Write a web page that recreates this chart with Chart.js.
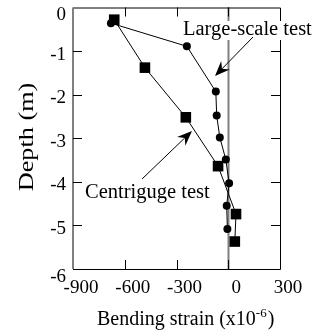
<!DOCTYPE html>
<html>
<head>
<meta charset="utf-8">
<script src="https://cdn.jsdelivr.net/npm/chart.js@4/dist/chart.umd.min.js"></script>
<style>
  html, body { margin: 0; padding: 0; background: #fff; }
  #wrap { width: 325px; height: 333px; position: relative; }
</style>
</head>
<body>
<div id="wrap"><canvas id="c" width="325" height="333"></canvas></div>
<script>
// ---- data ----
const largeStrain = [-680, -240, -72, -67, -49, -14, 5, -9, -5];
const largeDepth  = [-0.36, -0.89, -1.93, -2.48, -2.98, -3.49, -4.03, -4.55, -5.08];
const centStrain  = [-661, -483, -246, -59, 45, 38];
const centDepth   = [-0.28, -1.38, -2.52, -3.64, -4.74, -5.37];
const xTicks = [-900, -600, -300, 0, 300];
const yTicks = [0, -1, -2, -3, -4, -5, -6];
const xTitle = "Bending strain (x10";
const xTitleSup = "-6";
const yTitle = "Depth (m)";
const labelLarge = "Large-scale test";
const labelCent = "Centriguge test";

const SERIF = '"Liberation Serif", "Times New Roman", serif';

function pts(xs, ys) { return xs.map((x, i) => ({ x: x, y: ys[i] })); }

function arrow(ctx, x0, y0, x1, y1) {
  ctx.save();
  ctx.strokeStyle = '#000'; ctx.fillStyle = '#000'; ctx.lineWidth = 1;
  const a = Math.atan2(y1 - y0, x1 - x0);
  const L = 15, W = 6, N = 10;
  ctx.beginPath();
  ctx.moveTo(x0, y0);
  ctx.lineTo(x1 - Math.cos(a) * N, y1 - Math.sin(a) * N);
  ctx.stroke();
  ctx.translate(x1, y1); ctx.rotate(a);
  ctx.beginPath();
  ctx.moveTo(0, 0);
  ctx.lineTo(-L, -W);
  ctx.lineTo(-N, 0);
  ctx.lineTo(-L, W);
  ctx.closePath();
  ctx.fill();
  ctx.restore();
}

const framePlugin = {
  id: 'frame',
  beforeDatasetsDraw(chart) {
    const ctx = chart.ctx, a = chart.chartArea;
    const xs = chart.scales.x, ys = chart.scales.y;
    ctx.save();
    // zero line
    const x0 = Math.round(xs.getPixelForValue(0)) + 0.5;
    ctx.strokeStyle = '#808080'; ctx.lineWidth = 2;
    ctx.beginPath(); ctx.moveTo(x0, a.top); ctx.lineTo(x0, a.bottom); ctx.stroke();
    // frame
    ctx.strokeStyle = '#000'; ctx.lineWidth = 1;
    ctx.beginPath();
    ctx.moveTo(a.left, a.top + 0.5); ctx.lineTo(a.right + 0.5, a.top + 0.5);
    ctx.lineTo(a.right + 0.5, a.bottom + 0.5); ctx.lineTo(a.left, a.bottom + 0.5);
    ctx.stroke();
    ctx.strokeStyle = '#808080'; ctx.lineWidth = 2;
    ctx.beginPath(); ctx.moveTo(a.left, a.top); ctx.lineTo(a.left, a.bottom); ctx.stroke();
    // inward ticks
    ctx.strokeStyle = '#000'; ctx.lineWidth = 1;
    const T = 9;
    xTicks.forEach(v => {
      const p = Math.round(xs.getPixelForValue(v)) + 0.5;
      if (p <= a.left + 1 || p >= a.right - 1) return;
      ctx.beginPath();
      ctx.moveTo(p, a.top); ctx.lineTo(p, a.top + T);
      ctx.moveTo(p, a.bottom); ctx.lineTo(p, a.bottom - T);
      ctx.stroke();
    });
    yTicks.forEach(v => {
      const p = Math.round(ys.getPixelForValue(v)) + 0.5;
      if (p <= a.top + 1 || p >= a.bottom - 1) return;
      ctx.beginPath();
      ctx.moveTo(a.left, p); ctx.lineTo(a.left + T, p);
      ctx.moveTo(a.right, p); ctx.lineTo(a.right - T, p);
      ctx.stroke();
    });
    ctx.restore();
  },
  afterDraw(chart) {
    const ctx = chart.ctx, a = chart.chartArea;
    const xs = chart.scales.x, ys = chart.scales.y;
    ctx.save();
    ctx.fillStyle = '#000';
    // x tick labels
    ctx.font = '19px ' + SERIF;
    ctx.textAlign = 'center'; ctx.textBaseline = 'alphabetic';
    xTicks.forEach(v => {
      ctx.fillText(String(v), xs.getPixelForValue(v) + 8, a.bottom + 24);
    });
    // y tick labels
    ctx.textAlign = 'right';
    yTicks.forEach((v, i) => {
      let dy = 8.5;
      if (i === 0) dy = 12;
      if (i === yTicks.length - 1) dy = 13;
      ctx.fillText(String(v), a.left - 7, ys.getPixelForValue(v) + dy);
    });
    // x title with superscript
    ctx.textAlign = 'left';
    ctx.font = '20px ' + SERIF;
    let tx = 97, ty = 325;
    ctx.fillText(xTitle, tx, ty);
    tx += ctx.measureText(xTitle).width;
    ctx.font = '13px ' + SERIF;
    ctx.fillText(xTitleSup, tx, ty - 8);
    tx += ctx.measureText(xTitleSup).width;
    ctx.font = '20px ' + SERIF;
    ctx.fillText(')', tx + 1, ty);
    // y title rotated
    ctx.save();
    ctx.translate(27, 137);
    ctx.rotate(-Math.PI / 2);
    ctx.scale(1.25, 1);
    ctx.font = '21px ' + SERIF;
    ctx.textAlign = 'center'; ctx.textBaseline = 'middle';
    ctx.fillText(yTitle, 0, 0);
    ctx.restore();
    // annotations
    ctx.font = '20.5px ' + SERIF;
    ctx.textAlign = 'left'; ctx.textBaseline = 'alphabetic';
    const w1 = ctx.measureText(labelLarge).width;
    ctx.fillStyle = '#fff';
    ctx.fillRect(182, 21, w1 + 3, 19);
    ctx.fillStyle = '#000';
    ctx.fillText(labelLarge, 183, 35);
    ctx.fillText(labelCent, 85, 198);
    arrow(ctx, 253, 37, 215, 76);
    arrow(ctx, 142, 179, 192, 131);
    ctx.restore();
  }
};

new Chart(document.getElementById('c'), {
  type: 'scatter',
  data: {
    datasets: [
      {
        label: labelCent,
        data: pts(centStrain, centDepth),
        showLine: true,
        borderColor: '#000', borderWidth: 1,
        backgroundColor: '#000',
        pointStyle: 'rect', pointRadius: 7.5, pointBorderWidth: 0,
        pointBackgroundColor: '#000'
      },
      {
        label: labelLarge,
        data: pts(largeStrain, largeDepth),
        showLine: true,
        borderColor: '#000', borderWidth: 1,
        backgroundColor: '#000',
        pointStyle: 'circle', pointRadius: 4, pointBorderWidth: 0,
        pointBackgroundColor: '#000'
      }
    ]
  },
  options: {
    responsive: false,
    animation: false,
    layout: { padding: { left: 73, right: 45, top: 6, bottom: 64 } },
    plugins: { legend: { display: false }, tooltip: { enabled: false } },
    scales: {
      x: { type: 'linear', min: -900, max: 300, display: false },
      y: { type: 'linear', min: -6, max: 0, display: false }
    },
    clip: false
  },
  plugins: [framePlugin]
});
</script>
</body>
</html>
